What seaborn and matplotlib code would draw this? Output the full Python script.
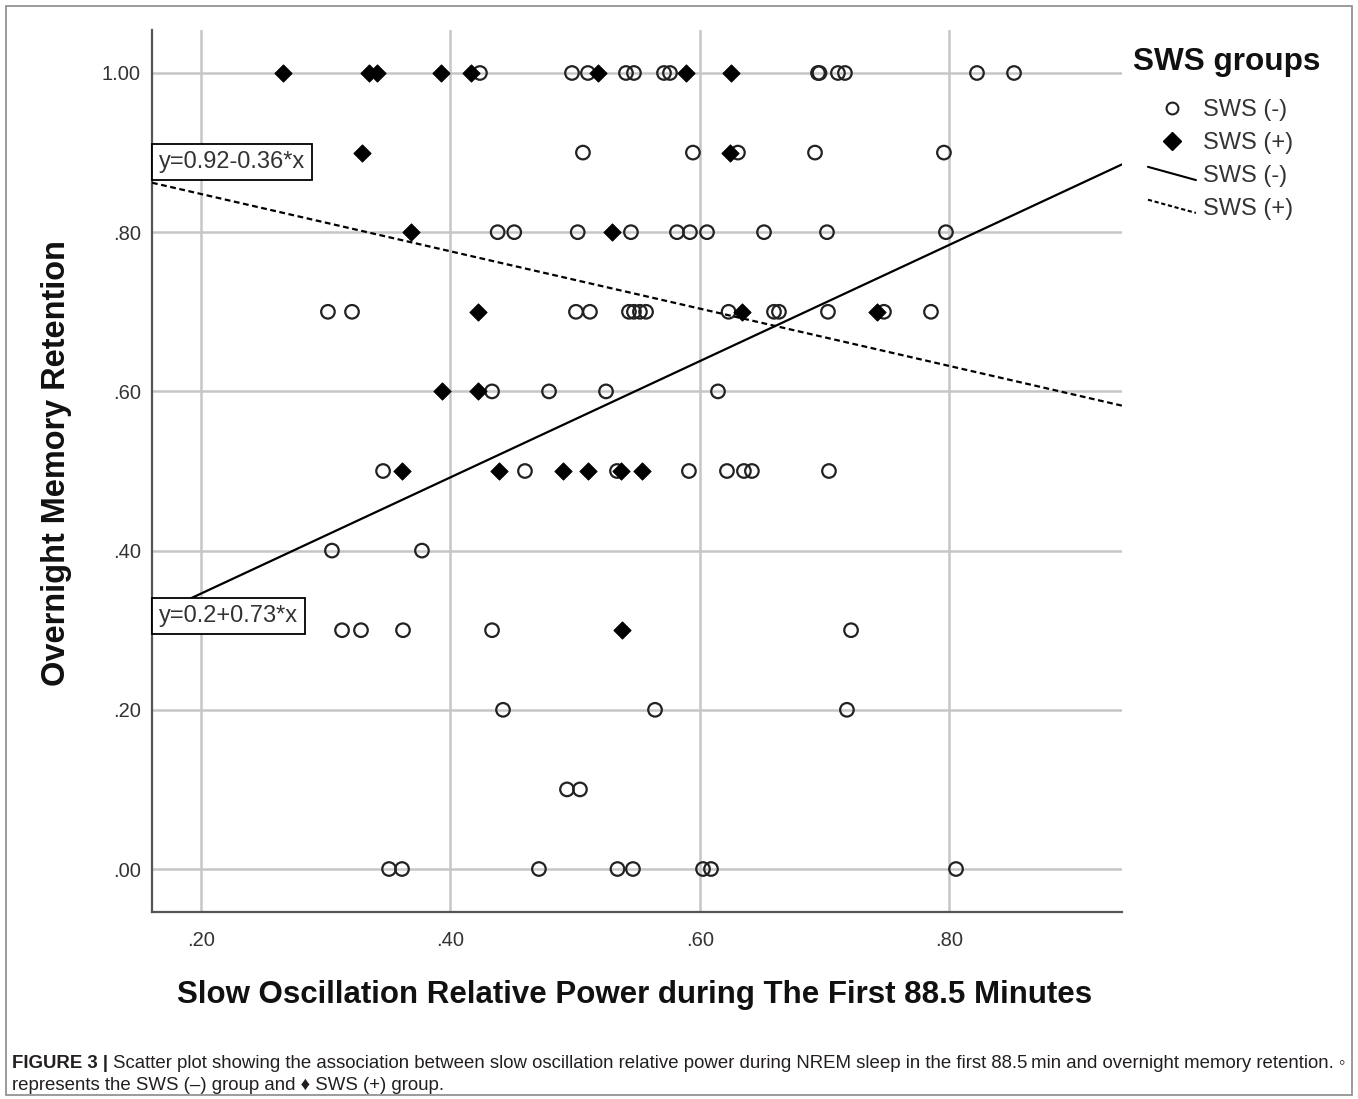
import numpy as np
import pandas as pd
import matplotlib
matplotlib.use("Agg")
import matplotlib.pyplot as plt
import seaborn as sns
from matplotlib.lines import Line2D
from matplotlib.legend_handler import HandlerBase
from matplotlib.patches import Rectangle
from matplotlib import font_manager

# ---------------- data ----------------
sws_neg_power = [
    0.4237, 0.4975, 0.5103, 0.5408, 0.5472, 0.5713, 0.5761, 0.6948, 0.6960, 0.7108, 0.7164, 0.8223, 0.8520,
    0.5063, 0.5945, 0.6306, 0.6924, 0.7958,
    0.4379, 0.4512, 0.5021, 0.5448, 0.5817, 0.5921, 0.6058, 0.6515, 0.7020, 0.7974,
    0.3018, 0.3211, 0.5007, 0.5119, 0.5432, 0.5472, 0.5520, 0.5569, 0.6231, 0.6595, 0.6635, 0.7028, 0.7477, 0.7854,
    0.4334, 0.4791, 0.5248, 0.6146,
    0.3460, 0.4598, 0.5336, 0.5913, 0.6218, 0.6354, 0.6418, 0.7036,
    0.3050, 0.3772,
    0.3131, 0.3283, 0.3620, 0.4334, 0.7213,
    0.4422, 0.5641, 0.7180,
    0.4935, 0.5039,
    0.3508, 0.3612, 0.4710, 0.5340, 0.5464, 0.6026, 0.6090, 0.8055,
]
sws_neg_retention = [
    1.0, 1.0, 1.0, 1.0, 1.0, 1.0, 1.0, 1.0, 1.0, 1.0, 1.0, 1.0, 1.0,
    0.9, 0.9, 0.9, 0.9, 0.9,
    0.8, 0.8, 0.8, 0.8, 0.8, 0.8, 0.8, 0.8, 0.8, 0.8,
    0.7, 0.7, 0.7, 0.7, 0.7, 0.7, 0.7, 0.7, 0.7, 0.7, 0.7, 0.7, 0.7, 0.7,
    0.6, 0.6, 0.6, 0.6,
    0.5, 0.5, 0.5, 0.5, 0.5, 0.5, 0.5, 0.5,
    0.4, 0.4,
    0.3, 0.3, 0.3, 0.3, 0.3,
    0.2, 0.2, 0.2,
    0.1, 0.1,
    0.0, 0.0, 0.0, 0.0, 0.0, 0.0, 0.0, 0.0,
]
sws_pos_power = [
    0.2658, 0.3347, 0.3411, 0.3925, 0.4165, 0.5184, 0.5889, 0.6250,
    0.3294, 0.6242,
    0.3684, 0.5300,
    0.4221, 0.6338, 0.7421,
    0.3933, 0.4221,
    0.3612, 0.4390, 0.4903, 0.5103, 0.5368, 0.5537,
    0.5376,
]
sws_pos_retention = [
    1.0, 1.0, 1.0, 1.0, 1.0, 1.0, 1.0, 1.0,
    0.9, 0.9,
    0.8, 0.8,
    0.7, 0.7, 0.7,
    0.6, 0.6,
    0.5, 0.5, 0.5, 0.5, 0.5, 0.5,
    0.3,
]
fit_intercepts = [0.2, 0.92]     # SWS (-), SWS (+)
fit_slopes = [0.73, -0.36]
group_labels = ["SWS (-)", "SWS (+)"]
x_ticks = [0.2, 0.4, 0.6, 0.8]
x_tick_labels = [".20", ".40", ".60", ".80"]
y_ticks = [0.0, 0.2, 0.4, 0.6, 0.8, 1.0]
y_tick_labels = [".00", ".20", ".40", ".60", ".80", "1.00"]
x_title = "Slow Oscillation Relative Power during The First 88.5 Minutes"
y_title = "Overnight Memory Retention"
legend_title = "SWS groups"
caption_bold = "FIGURE 3 |"
caption_line1 = ("Scatter plot showing the association between slow oscillation relative power during "
                 "NREM sleep in the first 88.5\u2009min and overnight memory retention. \u25e6")
caption_line2 = "represents the SWS (\u2013) group and \u2666 SWS (+) group."

# ---------------- style ----------------
sns.set_theme(style="white")
available = {f.name for f in font_manager.fontManager.ttflist}
NARROW = "Liberation Sans Narrow" if "Liberation Sans Narrow" in available else "Liberation Sans"
plt.rcParams["font.family"] = ["Liberation Sans", "DejaVu Sans"]

W, H = 1358, 1099
fig = plt.figure(figsize=(W / 100, H / 100), dpi=100)
fig.patch.set_facecolor("white")
ax = fig.add_axes([152 / W, 1 - 912 / H, 970 / W, 882 / H])
ax.set_facecolor("white")

xlim = (0.1607, 0.9386)
ylim = (-0.054, 1.054)

neg_df = pd.DataFrame({"power": sws_neg_power, "retention": sws_neg_retention})
pos_df = pd.DataFrame({"power": sws_pos_power, "retention": sws_pos_retention})

sns.scatterplot(data=neg_df, x="power", y="retention", marker="o", s=95,
                color="white", edgecolor="#222222", linewidth=1.6, ax=ax, zorder=3, legend=False)
ax.collections[-1].set_facecolor("none")
sns.scatterplot(data=pos_df, x="power", y="retention", marker="D", s=78,
                color="black", edgecolor="black", linewidth=0.6, ax=ax, zorder=4, legend=False)

xs = np.array(xlim)
dash = (0, (2.6, 1.6))
sns.lineplot(x=xs, y=fit_intercepts[0] + fit_slopes[0] * xs, color="black", lw=1.6, ax=ax, zorder=5)
sns.lineplot(x=xs, y=fit_intercepts[1] + fit_slopes[1] * xs, color="black", lw=1.6,
             linestyle=dash, ax=ax, zorder=5)

ax.set_xlim(xlim)
ax.set_ylim(ylim)
ax.set_xticks(x_ticks)
ax.set_xticklabels(x_tick_labels)
ax.set_yticks(y_ticks)
ax.set_yticklabels(y_tick_labels)
ax.tick_params(axis="both", length=0, labelsize=14.5, labelcolor="#333333")
ax.tick_params(axis="y", pad=8)
ax.tick_params(axis="x", pad=14)
ax.grid(True, color="#c6c6c6", lw=1.8)
ax.set_axisbelow(True)
for s in ["top", "right"]:
    ax.spines[s].set_visible(False)
for s in ["left", "bottom"]:
    ax.spines[s].set_color("#555555")
    ax.spines[s].set_linewidth(1.6)
ax.set_xlabel("")
ax.set_ylabel("")

# equation boxes
def eq_text(b, m):
    sign = "+" if m >= 0 else "-"
    return f"y={b:g}{sign}{abs(m):g}*x"

box = dict(boxstyle="square,pad=0.3", fc="white", ec="black", lw=1.3)
ax.annotate(eq_text(fit_intercepts[1], fit_slopes[1]), xy=(0, 0.888), xycoords=("axes fraction", "data"),
            xytext=(5, 0), textcoords="offset points", ha="left", va="center",
            fontsize=17, color="#333333", bbox=box, zorder=6)
ax.annotate(eq_text(fit_intercepts[0], fit_slopes[0]), xy=(0, 0.318), xycoords=("axes fraction", "data"),
            xytext=(5, 0), textcoords="offset points", ha="left", va="center",
            fontsize=17, color="#333333", bbox=box, zorder=6)

# legend with slanted line keys
class SlantedLineHandler(HandlerBase):
    def create_artists(self, legend, orig_handle, xdescent, ydescent, width, height, fontsize, trans):
        ymid = height / 2 - ydescent
        d = 0.28 * fontsize
        line = Line2D([-xdescent, width - xdescent], [ymid + d, ymid - d])
        line.update_from(orig_handle)
        line.set_data([-xdescent, width - xdescent], [ymid + d, ymid - d])
        line.set_marker("")
        line.set_transform(trans)
        return [line]

renderer = fig.canvas.get_renderer()

def fit_width(texts, target_px):
    total = sum(t.get_window_extent(renderer).width for t in texts)
    for t in texts:
        t.set_fontsize(t.get_fontsize() * target_px / total)

h1 = Line2D([], [], marker="o", ls="none", mfc="none", mec="#222222", mew=1.5, ms=8.5)
h2 = Line2D([], [], marker="D", ls="none", mfc="black", mec="black", ms=9)
h3 = Line2D([], [], color="black", lw=1.5)
h4 = Line2D([], [], color="black", lw=1.5, linestyle=(0, (2.0, 1.3)))
leg = ax.legend([h1, h2, h3, h4], [group_labels[0], group_labels[1], group_labels[0], group_labels[1]],
                loc="upper left", bbox_to_anchor=(1148 / W, 1 - 99 / H),
                bbox_transform=fig.transFigure, frameon=False, fontsize=17,
                handlelength=2.03, handletextpad=0.3, labelspacing=0.46, borderpad=0.0,
                borderaxespad=0.0,
                handler_map={h3: SlantedLineHandler(), h4: SlantedLineHandler()})
for t in leg.get_texts():
    t.set_color("#333333")
lt = fig.text(1133 / W, 1 - 62 / H, legend_title, ha="left", va="center", weight="bold",
              fontsize=22, color="#111111")
fit_width([lt], 187)

# axis titles
xt = fig.text(635 / W, 1 - 995 / H, x_title, ha="center", va="center", weight="bold",
              family=NARROW, fontsize=22, color="#111111")
fit_width([xt], 915)
yt = fig.text(57 / W, 1 - 463 / H, y_title, ha="center", va="center", rotation=90, weight="bold",
              family=NARROW, fontsize=22, color="#111111")
yt_bb = yt.get_window_extent(renderer)
yt.set_fontsize(yt.get_fontsize() * 446 / yt_bb.height)

# caption
cap_family = [NARROW, "DejaVu Sans"]
c0 = fig.text(12 / W, 1 - 1064 / H, caption_bold, ha="left", va="center", weight="bold",
              family=cap_family, fontsize=13, color="#231f20")
c1 = fig.text(0, 1 - 1064 / H, caption_line1, ha="left", va="center",
              family=cap_family, fontsize=13, color="#231f20")
fit_width([c0, c1], 1330)
bb0 = c0.get_window_extent(renderer)
c1.set_x((bb0.x1 + 5) / W)
c2 = fig.text(12 / W, 1 - 1086 / H, caption_line2, ha="left", va="center",
              family=cap_family, fontsize=c1.get_fontsize(), color="#231f20")

# figure border
fig.patches.append(Rectangle((6 / W, 4 / H), 1346 / W, 1089 / H, transform=fig.transFigure,
                             fill=False, edgecolor="#8a8a8a", lw=1.2))

fig.savefig("out.png", dpi=100, facecolor="white")
